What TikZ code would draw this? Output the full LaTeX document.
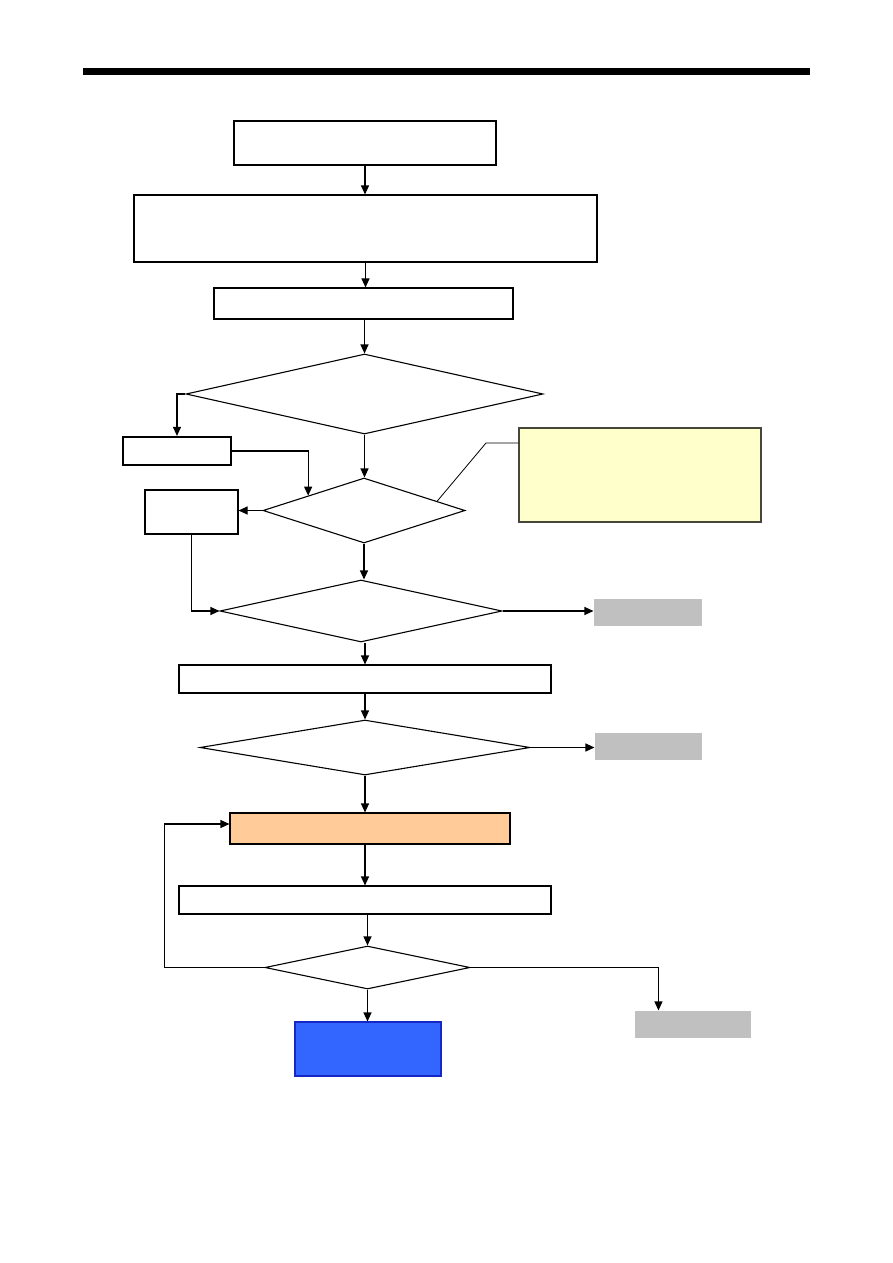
\documentclass[tikz,border=0pt]{standalone}
\usepackage{tikz}
\usetikzlibrary{arrows.meta, shapes.geometric, calc}
\definecolor{notefill}{RGB}{255, 255, 204}
\definecolor{notedraw}{RGB}{70, 70, 60}
\definecolor{stepfill}{RGB}{255, 204, 153}
\definecolor{endfill}{RGB}{51, 102, 255}
\definecolor{enddraw}{RGB}{20, 40, 200}
\definecolor{exitfill}{RGB}{192, 192, 192}

\begin{document}
\begin{tikzpicture}[
  x=1pt, y=-1pt,
  line width=1.1pt,
  box/.style={draw=black, fill=white, inner sep=0pt},
  test/.style={draw=black, fill=white, diamond, inner sep=0pt},
  exitbox/.style={fill=exitfill, inner sep=0pt},
  arrow/.style={-{Triangle[length=9pt, width=8pt]}, line width=1.1pt}
]
  \useasboundingbox (0,0) rectangle (893,1263);

  % barra di intestazione
  \node[fill=black, inner sep=0pt, minimum width=727pt, minimum height=7pt] (rule) at (446.5,71.5) {};

  % colonna centrale
  \node[box, minimum width=262pt, minimum height=44pt] (start) at (365,143) {};
  \node[box, minimum width=463pt, minimum height=67pt] (prep) at (365.5,228.5) {};
  \node[box, minimum width=299pt, minimum height=31pt] (load) at (363.5,303.5) {};
  \node[test, minimum width=357pt, minimum height=80pt] (askA) at (364.5,394) {};
  \node[test, minimum width=202pt, minimum height=65pt] (askB) at (364,510.5) {};
  \node[test, minimum width=282pt, minimum height=62pt] (askC) at (361,611) {};
  \node[box, minimum width=372pt, minimum height=28pt] (setup) at (365,679) {};
  \node[test, minimum width=330pt, minimum height=55pt] (askD) at (365,747.5) {};
  \node[box, fill=stepfill, minimum width=280pt, minimum height=31pt] (run) at (370,828.5) {};
  \node[box, minimum width=372pt, minimum height=28pt] (check) at (365,900) {};
  \node[test, minimum width=205pt, minimum height=43pt] (askE) at (367.5,967.5) {};
  \node[box, draw=enddraw, fill=endfill, minimum width=146pt, minimum height=54pt] (done) at (368,1049) {};

  % nodi laterali
  \node[box, line width=2.2pt, minimum width=108pt, minimum height=28pt] (sideA) at (177,451) {};
  \node[box, minimum width=93pt, minimum height=44pt] (sideB) at (191.5,512) {};
  \node[box, draw=notedraw, fill=notefill, minimum width=242pt, minimum height=94pt] (note) at (640,475) {};
  \node[exitbox, minimum width=108pt, minimum height=27pt] (exitA) at (648,612.5) {};
  \node[exitbox, minimum width=107pt, minimum height=27pt] (exitB) at (648.5,746.5) {};
  \node[exitbox, minimum width=116pt, minimum height=27pt] (exitC) at (693,1024.5) {};

  % frecce verticali
  \draw[arrow] (start.south) -- (start.south |- prep.north);
  \draw[arrow] (prep.south) -- (prep.south |- load.north);
  \draw[arrow] (load.south -| askA) -- (askA.north);
  \draw[arrow] (askA.south) -- (askA.south |- askB.north);
  \draw[arrow] (askB.south) -- (askB.south |- askC.north);
  \draw[arrow] (askC.south -| setup) -- (setup.north);
  \draw[arrow] (setup.south) -- (askD.north);
  \draw[arrow] (askD.south) -- (askD.south |- run.north);
  \draw[arrow] (run.south -| check) -- (check.north);
  \draw[arrow] (check.south -| askE) -- (askE.north);
  \draw[arrow] (askE.south) -- (askE.south |- done.north);

  % rami laterali
  \draw[arrow] (askA.west) -| (sideA.north);
  \draw[arrow] (sideA.east) -| ($(askB.north)!0.55!(askB.west)$);
  \draw[arrow] (askB.west) -- (sideB.east |- askB.west);
  \draw[arrow] (sideB.south) |- (askC.west);
  \draw[arrow] (askC.east) -- (exitA.west |- askC.east);
  \draw[arrow] (askD.east) -- (exitB.west |- askD.east);
  \draw[arrow] (askE.west) -- ++(-100,0) |- ($(run.west)+(0,-4.5)$);
  \draw[arrow] (askE.east) -| ($(exitC.north west)+(24,0)$);

  % richiamo della nota
  \coordinate (bend) at (486,443);
  \draw[line width=0.8pt] ($(askB.north)!0.72!(askB.east)$) -- (bend) -- (bend -| note.west);

\end{tikzpicture}
\end{document}
